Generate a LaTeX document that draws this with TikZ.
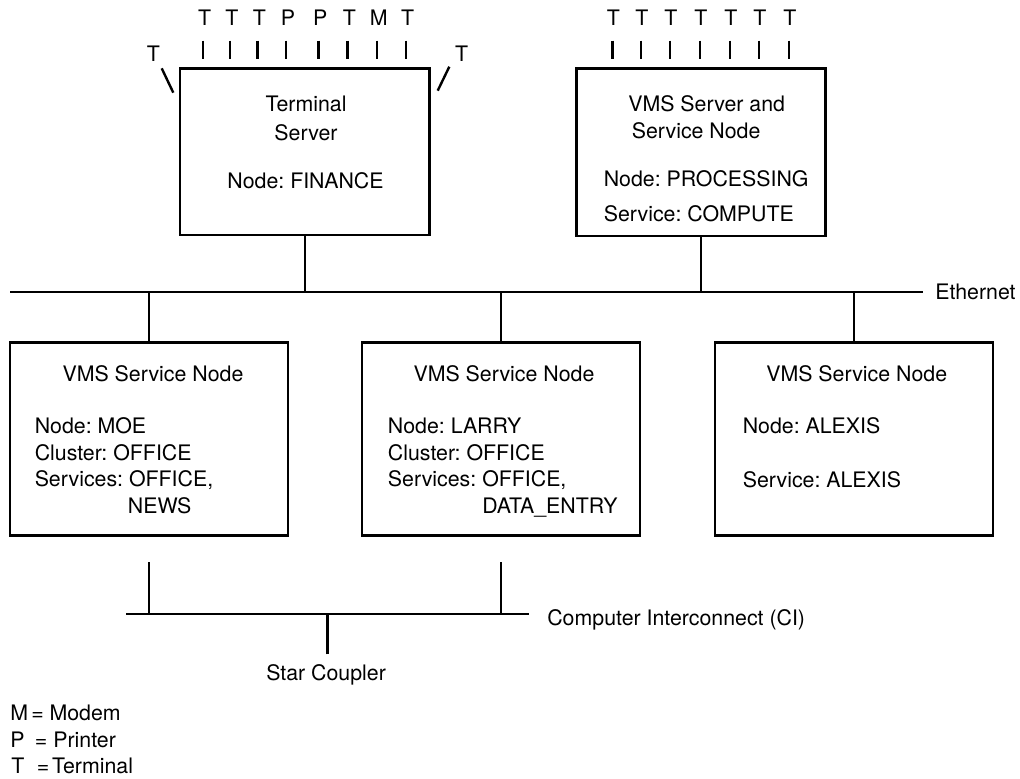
\documentclass[tikz,border=0pt]{standalone}
\usepackage{fontspec}
\setmainfont{TeX Gyre Heros}
\frenchspacing
\begin{document}
\begin{tikzpicture}[x=0.75pt,y=-0.75pt,
  wire/.style={line width=1.8pt},
  box/.style={draw, line width=1.9pt, inner sep=0pt},
  lbl/.style={inner sep=0pt, font=\fontsize{16}{19}\selectfont}]
\fill[white] (0,0) rectangle (1020,778);
\useasboundingbox (0,0) rectangle (1020,778);

% ---- boxes
\node[box, minimum width=187pt, minimum height=125pt] (ts) at (304.7,151.7) {};
\node[box, minimum width=186.75pt, minimum height=125.8pt] (vs) at (701.2,152.2) {};
\node[box, minimum width=208.5pt, minimum height=144.75pt] (moe) at (149.2,439.2) {};
\node[box, minimum width=208.5pt, minimum height=144.75pt] (larry) at (501,439.2) {};
\node[box, minimum width=208.5pt, minimum height=144.75pt] (alexis) at (853.8,439.2) {};

% ---- terminal lines, Terminal Server
\foreach \i/\x/\l in {1/202.7/T,2/230/T,3/257.3/T,4/286/P,5/318.3/P,6/347.3/T,7/376.7/M,8/405.7/T}{
  \node[lbl, anchor=base] (tsl\i) at (\x+2,26) {\l};
  \coordinate (tsa\i) at (\x,40.7);
  \coordinate (tsb\i) at (\x,59.3);
  \draw[wire] (tsa\i) -- (tsb\i);
}
\node[lbl, anchor=base] (tsLT) at (153.3,61.7) {T};
\coordinate (dl1) at (161.7,68.3);
\coordinate (dl2) at (173.3,92.7);
\draw[wire] (dl1) -- (dl2);
\node[lbl, anchor=base] (tsRT) at (461.7,61.7) {T};
\coordinate (dr1) at (449.3,66.7);
\coordinate (dr2) at (437.7,90.7);
\draw[wire] (dr1) -- (dr2);

% ---- terminal lines, VMS server
\foreach \i/\x in {1/612.3,2/641,3/670,4/700,5/730,6/759,7/789}{
  \node[lbl, anchor=base] (vsl\i) at (\x+1,26) {T};
  \coordinate (vsa\i) at (\x,40.7);
  \coordinate (vsb\i) at (\x,59.3);
  \draw[wire] (vsa\i) -- (vsb\i);
}

% ---- box texts
\node[lbl, anchor=base] (ts1) at (306,111) {Terminal};
\node[lbl, anchor=base] (ts2) at (306,140) {Server};
\node[lbl, anchor=base] (ts3) at (305.5,188.3) {Node: FINANCE};

\node[lbl, anchor=base west] (vs1) at (628,111) {VMS Server and};
\node[lbl, anchor=base west] (vs2) at (631.5,138.3) {Service Node};
\node[lbl, anchor=base west] (vs3) at (603.5,186.7) {Node: PROCESSING};
\node[lbl, anchor=base west] (vs4) at (603.5,221.7) {Service: COMPUTE};

\node[lbl, anchor=base] (moe1) at (153,381.7) {VMS Service Node};
\node[lbl, anchor=base west] (moe2) at (34.5,433.3) {Node: MOE};
\node[lbl, anchor=base west] (moe3) at (34.5,460) {Cluster: OFFICE};
\node[lbl, anchor=base west] (moe4) at (34.5,486.7) {Services: OFFICE,};
\node[lbl, anchor=base west] (moe5) at (127.7,513.3) {NEWS};

\node[lbl, anchor=base] (lar1) at (504,381.7) {VMS Service Node};
\node[lbl, anchor=base west] (lar2) at (387.7,433.3) {Node: LARRY};
\node[lbl, anchor=base west] (lar3) at (387.7,460) {Cluster: OFFICE};
\node[lbl, anchor=base west] (lar4) at (387.7,486.7) {Services: OFFICE,};
\node[lbl, anchor=base west] (lar5) at (482,513.3) {DATA\_ENTRY};

\node[lbl, anchor=base] (alx1) at (856.7,381.7) {VMS Service Node};
\node[lbl, anchor=base west] (alx2) at (742.5,433.3) {Node: ALEXIS};
\node[lbl, anchor=base west] (alx3) at (742.5,487.3) {Service: ALEXIS};

% ---- Ethernet
\coordinate (eL) at (10,291.7);
\coordinate (eR) at (923,291.7);
\draw[wire] (eL) -- (eR);
\node[lbl, anchor=base west] (eth) at (935,299.3) {Ethernet};
\draw[wire] (ts.south) -- (ts.south |- eL);
\draw[wire] (vs.south) -- (vs.south |- eL);
\draw[wire] (moe.north) -- (moe.north |- eL);
\draw[wire] (larry.north) -- (larry.north |- eL);
\draw[wire] (alexis.north) -- (alexis.north |- eL);

% ---- Computer Interconnect
\coordinate (ciL) at (126,614);
\coordinate (ciR) at (529.3,614);
\draw[wire] (ciL) -- (ciR);
\coordinate (moeci) at (149,562.3);
\coordinate (larci) at (501,562.3);
\draw[wire] (moeci) -- (moeci |- ciL);
\draw[wire] (larci) -- (larci |- ciL);
\node[lbl, anchor=base west] (ci) at (547,625) {Computer Interconnect (CI)};
\coordinate (star) at (327.5,654.3);
\draw[wire] (star) -- (star |- ciL);
\node[lbl, anchor=base west] (sc) at (266,680.7) {Star Coupler};

% ---- legend
\node[lbl, anchor=base west] (lgM) at (10,720.7) {M\kern2.5pt=\kern4.3pt Modem};
\node[lbl, anchor=base west] (lgP) at (10,747.3) {P\kern7.8pt=\kern4.5pt Printer};
\node[lbl, anchor=base west] (lgT) at (11,773.3) {T\kern9.5pt=\kern2pt Terminal};
\end{tikzpicture}
\end{document}
